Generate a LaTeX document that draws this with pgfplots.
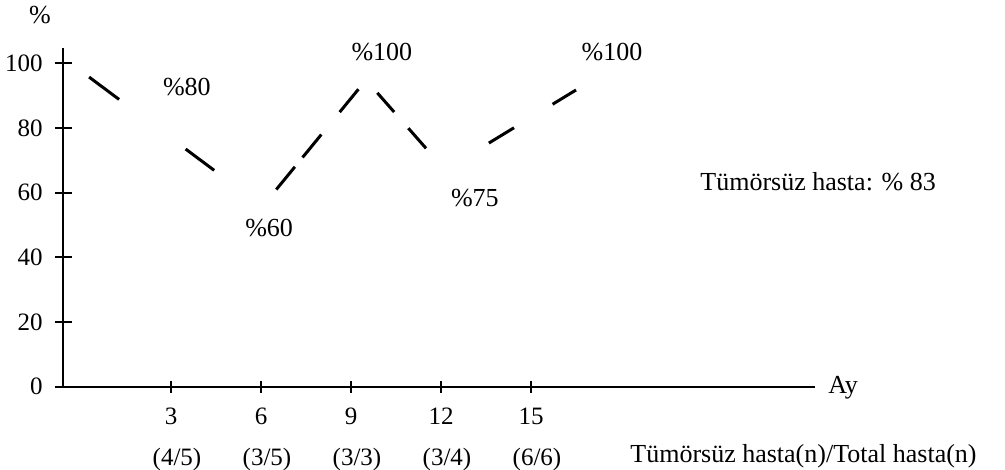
\documentclass[border=0pt]{standalone}
\usepackage{fontspec}
\setmainfont{Liberation Serif}
\usepackage{pgfplots}
\pgfplotsset{compat=1.18}
\newcommand{\lf}{\fontsize{13}{15}\selectfont}
\begin{document}
\begin{tikzpicture}
\useasboundingbox (0,0) rectangle (502.5pt,235pt);
\begin{axis}[
  at={(31.65pt,41.65pt)}, anchor=south west,
  x=15pt, y=1.616pt,
  xmin=-0.59, xmax=24.47, ymin=0, ymax=104.8,
  axis lines=left,
  axis line style={-, line width=1.1pt},
  tick align=center, major tick length=8.5pt,
  tick style={line width=1pt, black},
  xtick style={/pgfplots/major tick length=6pt},
  xtick={3,6,9,12,15},
  xticklabels={{3\\[5.5pt]\hspace*{6pt}(4/5)}, {6\\[5.5pt]\hspace*{6pt}(3/5)},
    {9\\[5.5pt]\hspace*{6pt}(3/3)}, {12\\[5.5pt]\hspace*{6pt}(3/4)},
    {15\\[5.5pt]\hspace*{6pt}(6/6)}},
  ytick={0,20,40,60,80,100},
  /pgf/number format/assume math mode=true,
  tick label style={font=\fontsize{12.5}{15}\selectfont},
  xticklabel style={align=center, yshift=-3pt},
  yticklabel style={xshift=-2.5pt},
  clip=false,
]
% hand-drawn dashed line, dash lengths
\addplot[black, line width=1.5pt, line cap=butt,
  dash pattern=on 18.7pt off 41.5pt on 17.8pt off 41pt on 14.7pt off 6.05pt
    on 14.8pt off 14.5pt on 14.8pt off 14.55pt on 12.75pt off 10.75pt
    on 13.4pt off 40.05pt on 14.7pt off 22.6pt on 14.35pt off 50pt]
  coordinates {(0.27,95.8) (6.05,55.8) (9.5,94.9) (12.13,67.1) (16.5,91.8)};

\node[font=\lf] at (axis cs:-1.37,115) {\%};
\node[font=\lf] at (axis cs:3.53,92.7) {\%80};
\node[font=\lf] at (axis cs:6.27,49.1) {\%60};
\node[font=\lf] at (axis cs:10.03,103.6) {\%100};
\node[font=\lf] at (axis cs:13.13,58.5) {\%75};
\node[font=\lf] at (axis cs:17.7,103.6) {\%100};
\node[font=\lf] at (axis cs:24.57,63.3) {Tümörsüz hasta: \% 83};
\node[font=\lf, anchor=base west, inner sep=0pt] at (axis cs:24.9,-2.2) {Ay};
\node[font=\lf, anchor=base west, inner sep=0pt] at (axis cs:18.3,-23.3)
  {Tümörsüz hasta(n)/Total hasta(n)};
\end{axis}
\end{tikzpicture}
\end{document}
